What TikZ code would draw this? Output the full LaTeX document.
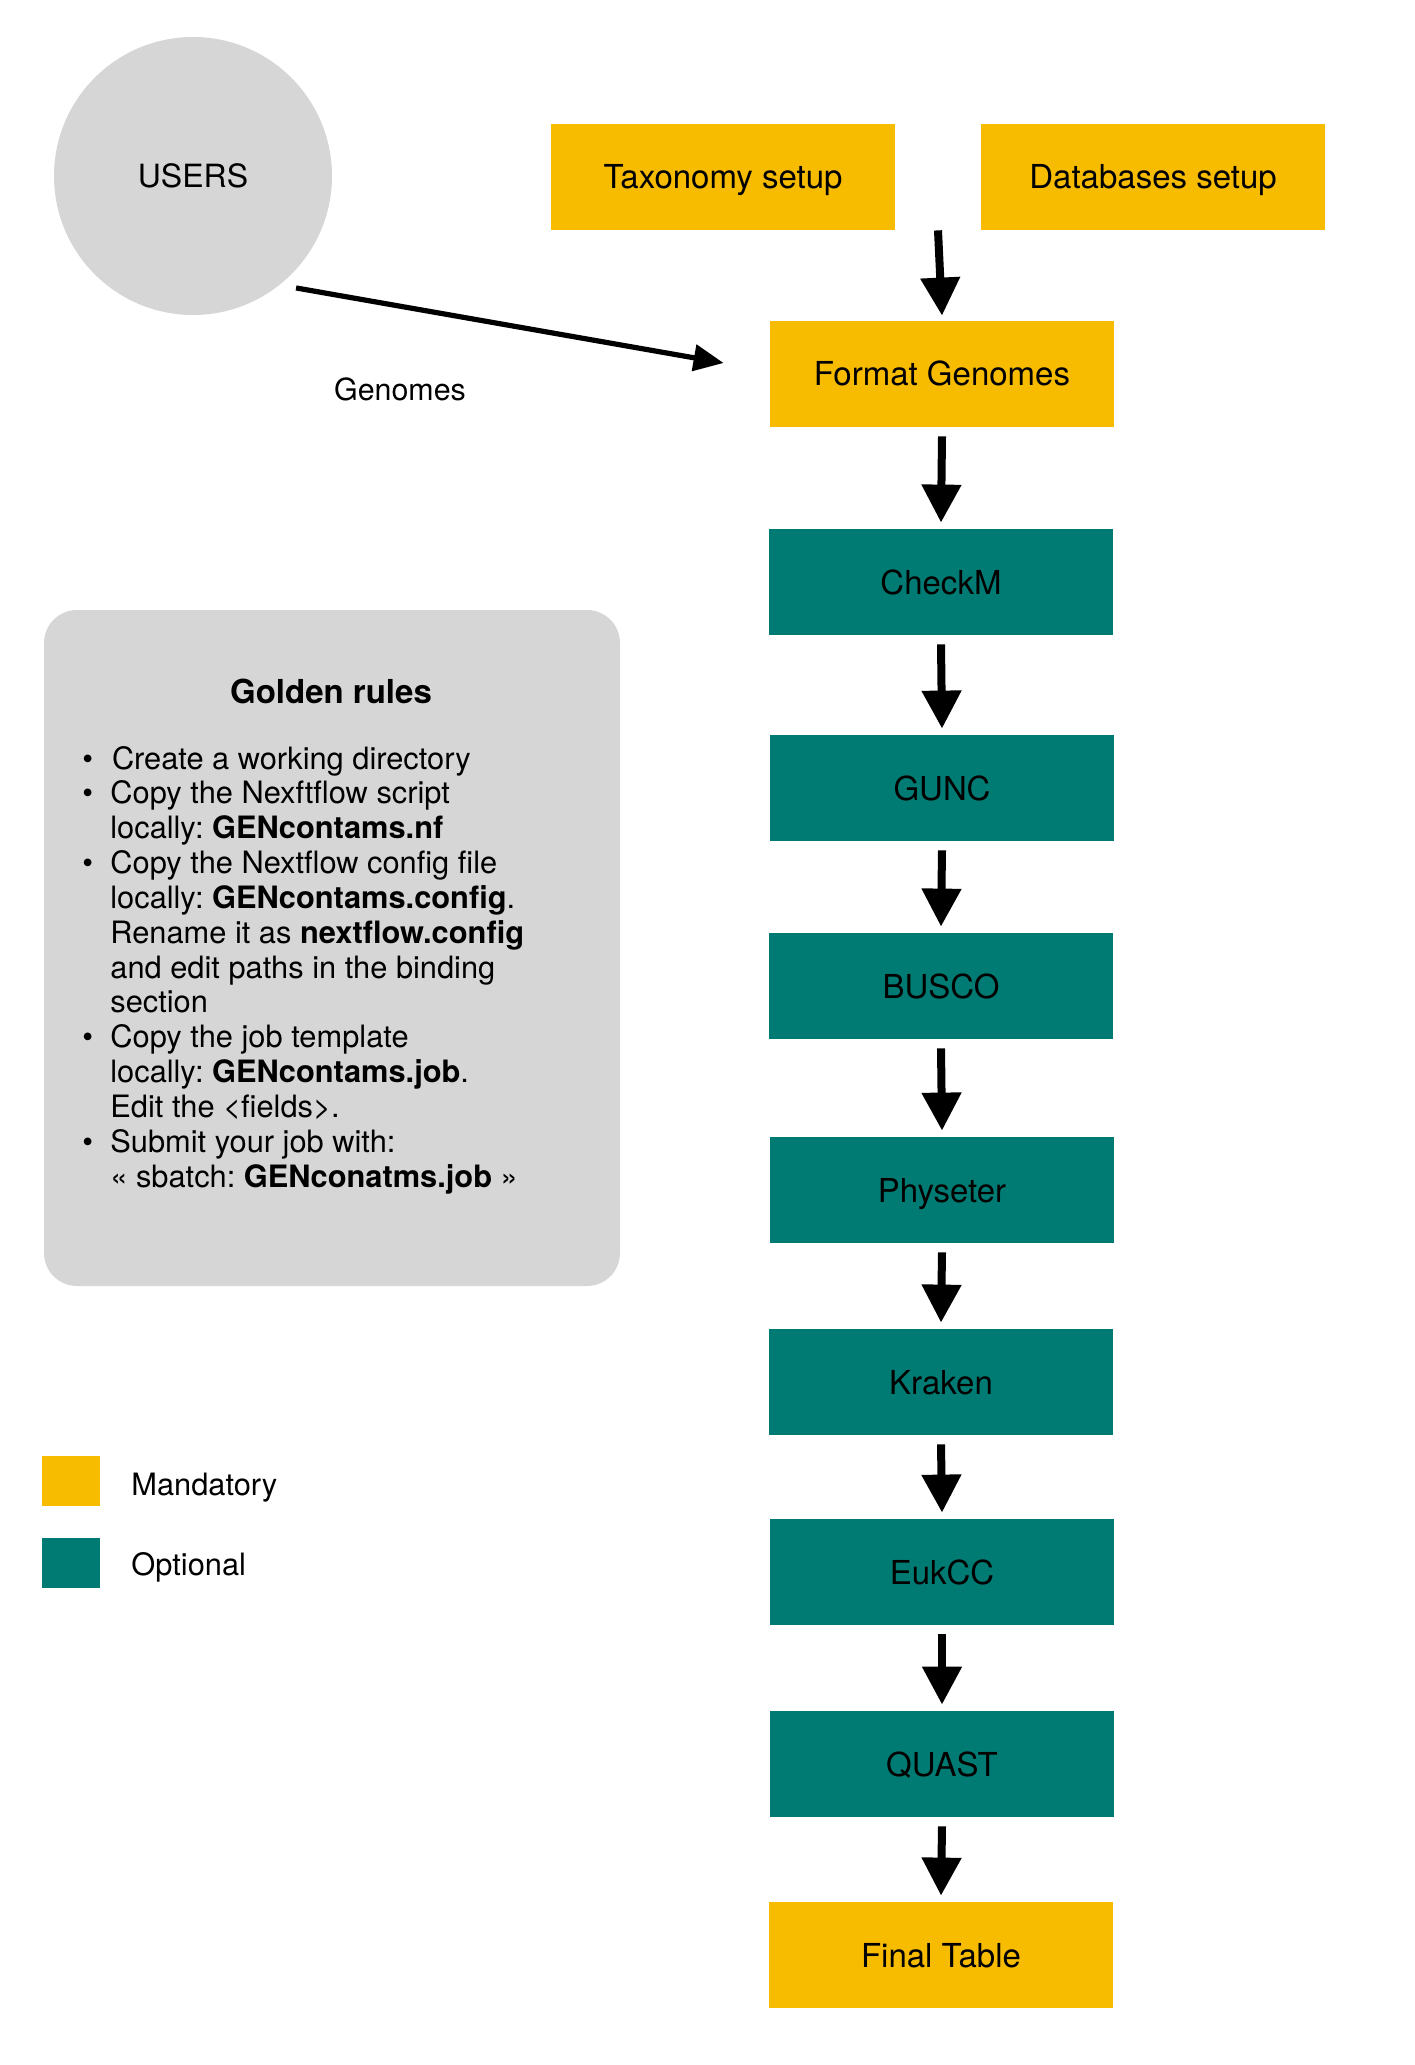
\documentclass[tikz,border=0pt]{standalone}
\usepackage{fontspec}
\setmainfont{TeX Gyre Heros}
\usetikzlibrary{arrows.meta,calc}
\definecolor{mand}{RGB}{247,187,0}
\definecolor{opt}{RGB}{0,123,116}
\definecolor{grayc}{RGB}{214,214,214}
\frenchspacing
\begin{document}
\begin{tikzpicture}[x=0.5pt,y=-0.5pt,
  box/.style={rectangle, minimum width=172pt, minimum height=53pt, inner sep=0pt,
    text height=12pt, text depth=0pt, font=\fontsize{16.5}{19}\selectfont},
  mbox/.style={box, fill=mand},
  obox/.style={box, fill=opt},
  flow/.style={line width=4pt, -{Triangle[width=19pt,length=19pt]}},
  garrow/.style={line width=2.6pt, -{Triangle[width=13pt,length=15pt]}},
  legsq/.style={rectangle, minimum width=29pt, minimum height=25pt, inner sep=0pt},
  lbl/.style={inner sep=0pt, font=\fontsize{15.4}{18}\selectfont}
]
\useasboundingbox (0,0) rectangle (1414,2065);

% users
\node[circle, fill=grayc, minimum size=139pt, inner sep=0pt,
      font=\fontsize{16}{19}\selectfont] (users) at (193,176) {USERS};

% mandatory setup boxes
\node[mbox] (tax) at (723,177) {Taxonomy setup};
\node[mbox] (db) at (1153,177) {Databases setup};

% pipeline
\node[mbox] (fmt) at (942,374) {Format Genomes};
\node[obox] (checkm) at (941,582) {CheckM};
\node[obox] (gunc) at (942,788) {GUNC};
\node[obox] (busco) at (941,986) {BUSCO};
\node[obox] (physeter) at (942,1190) {Physeter};
\node[obox] (kraken) at (941,1382) {Kraken};
\node[obox] (eukcc) at (942,1572) {EukCC};
\node[obox] (quast) at (942,1764) {QUAST};
\node[mbox] (final) at (941,1955) {Final Table};

% connectors
\coordinate (setupjoin) at ($(tax.south east)!0.5!(db.south west)$);
\draw[flow] (setupjoin) -- ([yshift=2.5pt]fmt.north);
\foreach \a/\b in {fmt/checkm, checkm/gunc, gunc/busco, busco/physeter,
                   physeter/kraken, kraken/eukcc, eukcc/quast, quast/final}{
  \draw[flow] ([yshift=-4.5pt]\a.south) -- ([yshift=3pt]\b.north);
}
\draw[garrow] ([xshift=4pt,yshift=-5pt]users.-47) -- ([xshift=-23pt,yshift=5.5pt]fmt.west);
\node[lbl, font=\fontsize{15.2}{18}\selectfont] (genomes) at (400,389) {Genomes};

% golden rules
\node[rectangle, rounded corners=16.5pt, fill=grayc, minimum width=288pt,
      minimum height=338pt, inner sep=0pt] (rulesbox) at (332,948) {};
\node[inner sep=0pt, anchor=base, font=\bfseries\fontsize{16.5}{19}\selectfont]
      (rtitle) at (331,703) {Golden rules};
\node[inner sep=0pt, anchor=base west, font=\fontsize{15.4}{17.42}\selectfont]
      (rules) at (82,769) {%
  \begin{tabular}[t]{@{}p{14pt}@{}l@{}}
  • & \hspace{0.8pt}Create a working directory\\
  • & Copy the Nexftflow script\\
    & locally: \textbf{GENcontams.nf}\\
  • & Copy the Nextflow config file\\
    & locally: \textbf{GENcontams.config}.\\
    & Rename it as \textbf{nextflow.config}\\
    & and edit paths in the binding\\
    & section\\
  • & Copy the job template\\
    & locally: \textbf{GENcontams.job}.\\
    & Edit the <fields>.\\
  • & Submit your job with:\\
    & « sbatch: \textbf{GENconatms.job} »
  \end{tabular}};

% legend
\node[legsq, fill=mand] (legm) at (71,1481) {};
\node[legsq, fill=opt] (lego) at (71,1563) {};
\node[lbl, anchor=base west] (legmt) at (131,1495) {Mandatory};
\node[lbl, anchor=base west] (legot) at (131,1575) {Optional};
\end{tikzpicture}
\end{document}
